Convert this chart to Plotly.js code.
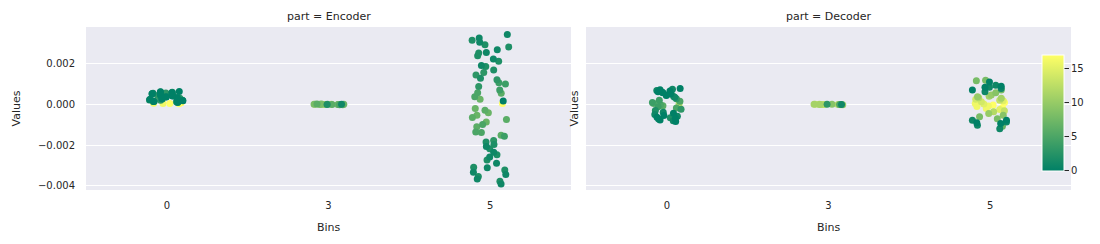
<!DOCTYPE html>
<html><head><meta charset="utf-8">
<script src="https://cdn.plot.ly/plotly-3.0.1.min.js"></script>
<style>html,body{margin:0;padding:0;background:#fff}#chart{width:1100px;height:244px}</style>
</head><body><div id="chart"></div>
<script>
// ---------- data ----------
const parts = ['Encoder', 'Decoder'];
const bins = ['0', '3', '5'];
const hueTicks = [0, 5, 10, 15];
const hueMax = 17;
const valueTicks = [-0.004, -0.002, 0, 0.002];

const encoderBin0Values = [0.00064, 0.00058, 0.00052, 0.00047, 0.00041, 0.00036, 0.00029, 0.00024, 0.00018, 0.00012, 0.00061, 0.00033, 0.00015,
  0.00062, 0.00055, 0.00049, 0.00043, 0.00038, 0.00031, 0.00027, 0.00021, 0.00016, 0.00011, 0.00057, 0.00026,
  0.00060, 0.00053, 0.00045, 0.00039, 0.00034, 0.00028, 0.00022, 0.00014, 0.00009, 0.00050, 0.00019,
  0.00056, 0.00044, 0.00030, 0.00020, 0.00013,
  0.00006, 0.00004, 0.00005, 0.00008, 0.00003];
const encoderBin0Hue = [0,0,0,0,0,0,0,0,0,0,0,0,0,
  1,1,1,1,1,1,1,1,1,1,1,1,
  2,2,2,2,2,2,2,2,2,2,2,
  3,3,3,3,3,
  16,16,17,17,17];

const encoderBin3Values = [0.00001, 0.00000, 0.00001, -0.00001, 0.00000, 0.00002, 0.00001, 0.00000, -0.00001, 0.00000, 0.00001, 0.00002, 0.00000, 0.00001, 0.00001, 0.00000, 0.00000, 0.00001];
const encoderBin3Hue = [1, 2, 5, 5, 6, 6, 7, 7, 7, 8, 8, 8, 9, 9, 11, 11, 12, 12];

const encoderBin5Values = [0.00344, 0.00327, 0.00316, 0.00306, 0.00294, 0.00283, 0.00269, 0.00253, 0.00255, 0.00240, 0.00223, 0.00212, 0.00192, 0.00170, 0.00187,
  0.00157, 0.00145, 0.00121, 0.00129, 0.00107, 0.00101, 0.00088, 0.00071, 0.00058, 0.00055, 0.00038, 0.00026, 0.00017, 0.00005,
  -0.00020, -0.00028, -0.00053, -0.00074, -0.00041, -0.00064, -0.00086, -0.00110, -0.00136, -0.00152, -0.00138, -0.00099, -0.00157,
  -0.00177, -0.00185, -0.00197, -0.00207, -0.00218, -0.00235, -0.00248, -0.00259, -0.00273, -0.00289, -0.00309, -0.00311, -0.00322,
  -0.00334, -0.00345, -0.00355, -0.00367, -0.00378, -0.00392];
const encoderBin5Hue = [1, 1, 2, 1, 2, 2, 1, 2, 1, 2, 1, 2, 1, 2, 2,
  3, 3, 3, 2, 4, 4, 3, 4, 5, 6, 5, 7, 0, 17,
  7, 6, 7, 6, 7, 6, 7, 6, 5, 6, 5, 5, 4,
  3, 2, 2, 1, 2, 1, 2, 1, 2, 1, 2, 1, 2,
  1, 1, 2, 1, 2, 1];

const decoderBin0Values = [0.00078, 0.00075, 0.00072, 0.00069, 0.00066, 0.00063, 0.00060, 0.00057, 0.00054, 0.00051, 0.00047, 0.00044, 0.00039, 0.00035,
  0.00028, 0.00021, 0.00016, 0.00010, 0.00005, 0.00002, -0.00002, -0.00007, -0.00012, -0.00018, -0.00024, -0.00030,
  -0.00038, -0.00043, -0.00049, -0.00054, -0.00058, -0.00063, -0.00068, -0.00072, -0.00076, -0.00080, -0.00084, -0.00066];
const decoderBin0Hue = [0, 1, 0, 1, 0, 0, 1, 0, 1, 0, 1, 0, 2, 1,
  3, 4, 5, 4, 6, 12, 5, 6, 4, 5, 3, 2,
  1, 0, 1, 0, 1, 0, 0, 1, 0, 1, 0, 2];

const decoderBin3Values = [0.00000, 0.00001, 0.00000, -0.00001, 0.00001, 0.00000, 0.00001, 0.00000, 0.00000, 0.00001, 0.00000, -0.00001, 0.00001, 0.00000];
const decoderBin3Hue = [1, 3, 5, 10, 11, 11, 12, 12, 12, 13, 13, 14, 9, 12];

const decoderBin5Values = [0.00117, 0.00119, 0.00111, 0.00095, 0.00090, 0.00079, 0.00084, 0.00084, 0.00071, 0.00071, 0.00057, 0.00062,
  0.00046, 0.00038, 0.00033, 0.00030, 0.00021, 0.00005, -0.00003, -0.00008, 0.00013, -0.00015, -0.00025, -0.00036, -0.00045,
  0.00010, -0.00010, 0.00002, -0.00020, 0.00018, 0.00026, -0.00031, 0.00040,
  -0.00061, -0.00070, -0.00053, -0.00078, -0.00078, -0.00086, -0.00094, -0.00107, -0.00102, -0.00090, -0.00120];
const decoderBin5Hue = [8, 8, 0, 1, 0, 1, 0, 1, 8, 0, 9, 1,
  10, 10, 12, 11, 13, 16, 17, 16, 14, 17, 15, 12, 10,
  17, 16, 15, 16, 15, 14, 13, 11,
  8, 8, 9, 1, 0, 1, 0, 7, 1, 0, 1];

// ---------- build ----------
function hueColor(h) {
  const t = Math.max(0, Math.min(1, h / hueMax));
  return 'rgb(' + Math.round(255 * t) + ',' + Math.round(127.5 + 127.5 * t) + ',102)';
}

const groups = [
  {p: 0, bin: bins[0], v: encoderBin0Values, h: encoderBin0Hue},
  {p: 0, bin: bins[1], v: encoderBin3Values, h: encoderBin3Hue},
  {p: 0, bin: bins[2], v: encoderBin5Values, h: encoderBin5Hue},
  {p: 1, bin: bins[0], v: decoderBin0Values, h: decoderBin0Hue},
  {p: 1, bin: bins[1], v: decoderBin3Values, h: decoderBin3Hue},
  {p: 1, bin: bins[2], v: decoderBin5Values, h: decoderBin5Hue}
];
// strip-plot style spreading of the per-hue point clouds (visual only)
const spreadCycle = [0.5, -0.5, 0.15, -0.7, 0.75, -0.2, 0.35, -0.4, 0.6, -0.05];

const traces = [];
groups.forEach(g => {
  const hues = Array.from(new Set(g.h)).sort((a, b) => b - a);
  hues.forEach((hu, k) => {
    const ys = g.v.filter((_, i) => g.h[i] === hu);
    const big = ys.length >= 6;
    const pp = big ? 0 : spreadCycle[k % spreadCycle.length];
    traces.push({
      type: 'box', name: parts[g.p] + ' ' + g.bin + ' ' + hu,
      x: ys.map(() => g.bin), y: ys,
      xaxis: g.p ? 'x2' : 'x', yaxis: g.p ? 'y2' : 'y',
      boxpoints: 'all', jitter: 1 - Math.abs(pp), pointpos: pp, width: big ? 0.26 : 0.2,
      fillcolor: 'rgba(0,0,0,0)', line: {width: 0, color: 'rgba(0,0,0,0)'},
      marker: {size: 7, color: hueColor(hu), opacity: 1, line: {width: 0}},
      hoverinfo: 'skip', showlegend: false
    });
  });
});

const L = 86, R = 29, T = 27, B = 54, W = 1100, H = 244;
const pw = W - L - R, ph = H - T - B;

traces.push({
  type: 'scatter', mode: 'markers', x: [null], y: [null], xaxis: 'x2', yaxis: 'y2',
  hoverinfo: 'skip', showlegend: false,
  marker: {
    color: [0], cmin: 0, cmax: hueMax,
    colorscale: [[0, hueColor(0)], [1, hueColor(hueMax)]], showscale: true,
    colorbar: {
      x: (1042 - L) / pw, xanchor: 'left', y: (H - B - 112.8) / ph, yanchor: 'middle',
      len: 116, lenmode: 'pixels', thickness: 22, thicknessmode: 'pixels',
      outlinewidth: 1, outlinecolor: '#ffffff', borderwidth: 0, xpad: 0, ypad: 0,
      tickvals: hueTicks, ticks: 'outside', ticklen: 5, tickwidth: 1, tickcolor: '#262626',
      tickfont: {size: 10, color: '#262626', family: 'DejaVu Sans'}
    }
  }
});

const xcommon = {type: 'category', categoryorder: 'array', categoryarray: bins, range: [-0.5, 2.5],
  showgrid: false, zeroline: false, ticks: '', showline: false, ticklabelstandoff: 8, fixedrange: true};
const ycommon = {range: [-0.00421, 0.00381], tickvals: valueTicks, tickformat: '.3f', showgrid: true,
  gridcolor: '#ffffff', gridwidth: 1, zeroline: false, ticks: '', showline: false, fixedrange: true};

const d1 = [0, 485 / pw], d2 = [500 / pw, 1];
const layout = {
  width: W, height: H, margin: {l: L, r: R, t: T, b: B},
  paper_bgcolor: '#ffffff', plot_bgcolor: '#EAEAF2',
  font: {family: 'DejaVu Sans', size: 10, color: '#262626'},
  showlegend: false, boxmode: 'overlay',
  xaxis: Object.assign({}, xcommon, {domain: d1, anchor: 'y'}),
  xaxis2: Object.assign({}, xcommon, {domain: d2, anchor: 'y2'}),
  yaxis: Object.assign({}, ycommon, {anchor: 'x', ticklabelstandoff: 10}),
  yaxis2: Object.assign({}, ycommon, {anchor: 'x2', matches: 'y', showticklabels: false}),
  annotations: [
    {text: 'part = ' + parts[0], xref: 'paper', yref: 'paper', x: (d1[0] + d1[1]) / 2, y: 1, yshift: 11, xanchor: 'center', yanchor: 'middle', showarrow: false, font: {size: 11}},
    {text: 'part = ' + parts[1], xref: 'paper', yref: 'paper', x: (d2[0] + d2[1]) / 2, y: 1, yshift: 11, xanchor: 'center', yanchor: 'middle', showarrow: false, font: {size: 11}},
    {text: 'Bins', xref: 'paper', yref: 'paper', x: (d1[0] + d1[1]) / 2, y: 0, yshift: -37, xanchor: 'center', yanchor: 'middle', showarrow: false, font: {size: 11}},
    {text: 'Bins', xref: 'paper', yref: 'paper', x: (d2[0] + d2[1]) / 2, y: 0, yshift: -37, xanchor: 'center', yanchor: 'middle', showarrow: false, font: {size: 11}},
    {text: 'Values', xref: 'paper', yref: 'paper', x: 0, xshift: -70, y: 0.5, xanchor: 'center', yanchor: 'middle', textangle: -90, showarrow: false, font: {size: 11}},
    {text: 'Values', xref: 'paper', yref: 'paper', x: d2[0], xshift: -12, y: 0.5, xanchor: 'center', yanchor: 'middle', textangle: -90, showarrow: false, font: {size: 11}}
  ]
};

Plotly.newPlot('chart', traces, layout, {staticPlot: true, displayModeBar: false});
</script>
</body></html>
